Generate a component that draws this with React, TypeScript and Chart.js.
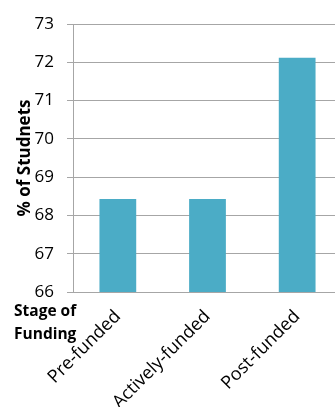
import React, { useEffect, useRef } from "react";
import { Chart, registerables } from "chart.js";

Chart.register(...registerables);

const categories: string[] = ["Pre-funded", "Actively-funded", "Post-funded"];
const values: number[] = [68.43, 68.43, 72.12];
const yMin = 66;
const yMax = 73;
const yTitle = "% of Studnets";
const xTitleLines: string[] = ["Stage of", "Funding"];

const CW = 342;
const CH = 460;
const PLOT_LEFT = 73;
const PLOT_TOP = 24;
const PLOT_BOTTOM = 292;

export default function App() {
  const ref = useRef<HTMLCanvasElement | null>(null);
  useEffect(() => {
    if (!ref.current) return;
    const stagePlugin = {
      id: "stageLabel",
      afterDraw(chart: any) {
        const ctx = chart.ctx;
        ctx.save();
        ctx.font = 'bold 15.5px "Open Sans"';
        ctx.fillStyle = "#000";
        ctx.textAlign = "left";
        ctx.textBaseline = "middle";
        ctx.fillText(xTitleLines[0], 14, 312);
        ctx.fillText(xTitleLines[1], 14, 335);
        ctx.restore();
      },
    };
    const chart = new Chart(ref.current, {
      type: "bar",
      data: {
        labels: categories,
        datasets: [
          {
            data: values,
            backgroundColor: "#4BACC6",
            barPercentage: 0.41,
            categoryPercentage: 1,
          },
        ],
      },
      options: {
        responsive: false,
        animation: false,
        layout: { autoPadding: false, padding: { top: PLOT_TOP, left: 0, right: 0, bottom: 0 } },
        plugins: { legend: { display: false }, tooltip: { enabled: false } },
        scales: {
          x: {
            grid: { display: false, drawTicks: false },
            border: { display: true, color: "#a6a6a6", width: 1 },
            ticks: {
              color: "#000",
              font: { family: '"Open Sans"', size: 18 },
              minRotation: 45,
              maxRotation: 45,
              autoSkip: false,
              padding: 14,
            },
            afterFit(scale: any) {
              scale.height = CH - PLOT_BOTTOM;
            },
          },
          y: {
            min: yMin,
            max: yMax,
            ticks: {
              stepSize: 1,
              color: "#000",
              font: { family: '"Open Sans"', size: 17 },
              padding: 13,
            },
            grid: { color: "#a6a6a6", tickLength: 6, lineWidth: 1 },
            border: { display: true, color: "#a6a6a6" },
            title: {
              display: true,
              text: yTitle,
              color: "#000",
              font: { family: '"Open Sans"', size: 17, weight: "bold" },
              padding: { top: 15, bottom: 0 },
            },
            afterFit(scale: any) {
              scale.width = PLOT_LEFT;
            },
          },
        },
      },
      plugins: [stagePlugin],
    });
    return () => chart.destroy();
  }, []);
  return (
    <div
      style={{
        position: "fixed",
        left: 0,
        top: 0,
        width: 335,
        height: 407,
        overflow: "hidden",
        background: "#fff",
      }}
    >
      <canvas ref={ref} width={CW} height={CH} style={{ display: "block", width: CW, height: CH }} />
    </div>
  );
}
